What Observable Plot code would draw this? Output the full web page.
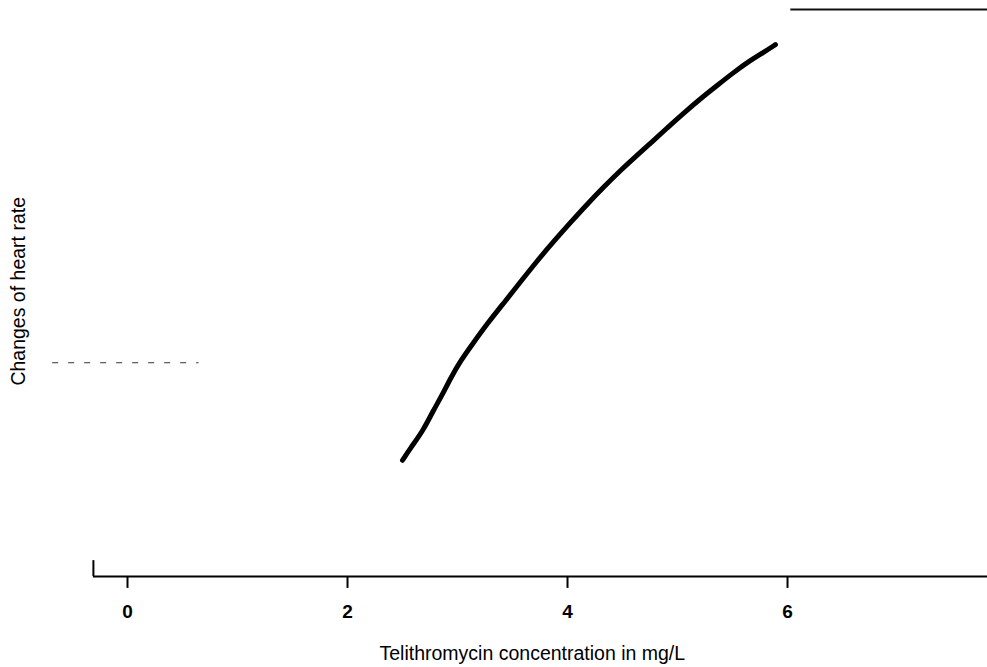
<!DOCTYPE html>
<html>
<head>
<meta charset="utf-8">
<script src="https://cdn.jsdelivr.net/npm/d3@7"></script>
<script src="https://cdn.jsdelivr.net/npm/@observablehq/plot@0.6"></script>
<style>
  html, body { margin: 0; padding: 0; background: #fff; }
  svg { display: block; font-family: "Liberation Sans", Arial, sans-serif; }
</style>
</head>
<body>
<div id="chart"></div>
<script>
// Telithromycin concentration (mg/L)
const concentration = [2.50, 2.57, 2.69, 2.78, 2.85, 2.94, 3.03, 3.14, 3.27, 3.44, 3.57, 3.73, 3.87, 4.03, 4.18, 4.33, 4.48, 4.66, 4.76, 4.91, 5.06, 5.21, 5.36, 5.51, 5.66, 5.78, 5.89];
// Changes of heart rate (relative units)
const heartRateChange = [20.5, 22.6, 25.8, 29.3, 31.6, 35.1, 38.1, 41.1, 44.6, 48.7, 51.9, 55.8, 59.0, 62.5, 65.7, 68.7, 71.6, 74.8, 76.5, 79.2, 81.8, 84.3, 86.6, 88.9, 91.0, 92.4, 93.8];
const xTicks = [0, 2, 4, 6];
const xTitle = "Telithromycin concentration in mg/L";
const yTitle = "Changes of heart rate";
const referenceLevel = [37.7];
const topLevel = [100];

const curve = concentration.map((c, i) => ({c, v: heartRateChange[i]}));

const chart = Plot.plot({
  width: 987,
  height: 667,
  marginLeft: 50,
  marginRight: 0,
  marginTop: 9,
  marginBottom: 91,
  x: {domain: [-0.7, 7.818], axis: null},
  y: {domain: [0, 100], axis: null},
  style: {fontFamily: "'Liberation Sans', Arial, sans-serif", color: "#000", background: "#fff"},
  marks: [
    Plot.ruleX(xTicks, {x: d => d, y1: 0, y2: -2.1, stroke: "#000", strokeWidth: 2}),
    Plot.text(xTicks, {x: d => d, y: -6.3, text: d => String(d), fontSize: 19, fontWeight: "bold", fill: "#000", textAnchor: "middle"}),
    Plot.ruleY([0], {x1: -0.31, x2: 7.82, stroke: "#000", strokeWidth: 2}),
    Plot.ruleX([-0.31], {y1: 0, y2: 2.8, stroke: "#000", strokeWidth: 2}),
    Plot.ruleY(topLevel, {x1: 6.03, x2: 7.82, stroke: "#111", strokeWidth: 2}),
    Plot.ruleY(referenceLevel, {x1: -0.68, x2: 0.65, stroke: "#333", strokeWidth: 1.2, strokeDasharray: "6,10"}),
    Plot.line(curve, {x: "c", y: "v", stroke: "#000", strokeWidth: 5, curve: "basis", strokeLinecap: "round"}),
    Plot.text([xTitle], {x: 3.68, y: -13.6, text: d => d, fontSize: 19.5, fill: "#000", textAnchor: "middle"}),
    Plot.text([yTitle], {x: -0.99, y: 50.3, text: d => d, fontSize: 19.5, fill: "#000", rotate: -90, textAnchor: "middle"})
  ]
});
document.getElementById("chart").appendChild(chart);
</script>
</body>
</html>
